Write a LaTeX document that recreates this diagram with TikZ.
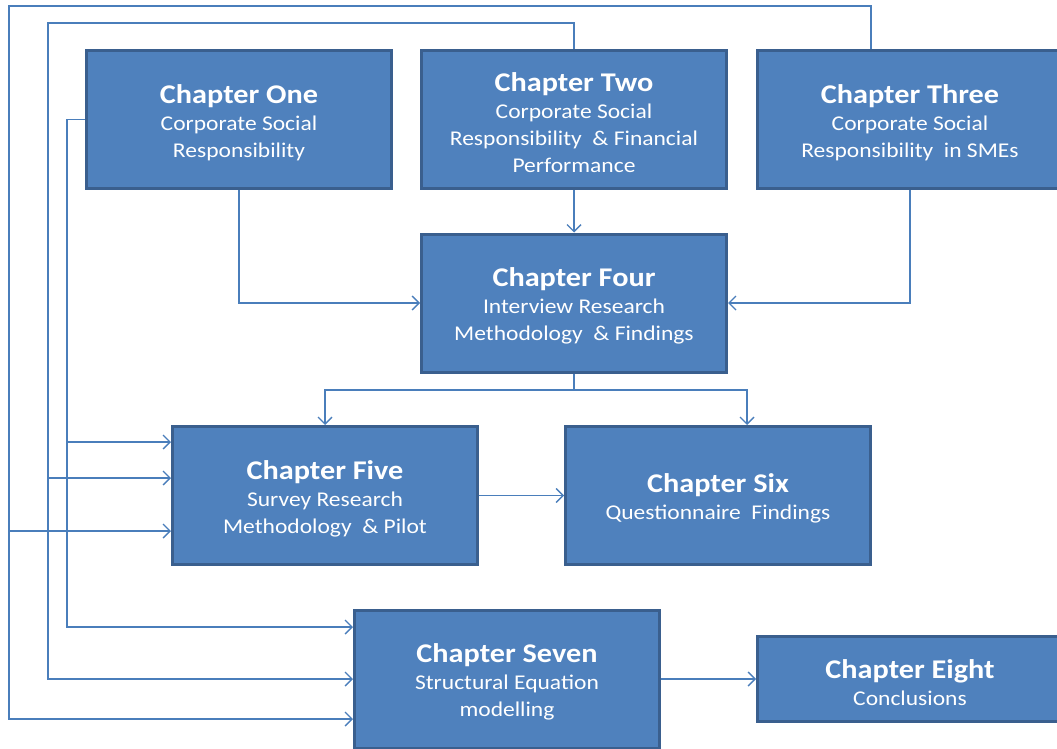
\documentclass[tikz,border=0pt]{standalone}
\usepackage{fontspec}
\setmainfont{Carlito}[FakeStretch=1.12]
\usetikzlibrary{arrows.meta,calc}
\definecolor{boxfill}{HTML}{4F81BD}
\definecolor{boxline}{HTML}{3A5F8E}
\definecolor{conncol}{HTML}{4A7EBB}
\tikzset{
  chap/.style={draw=boxline, line width=3pt, fill=boxfill, text=white,
    minimum width=305pt, minimum height=138pt, align=center, inner sep=0pt,
    font=\fontsize{21}{27}\selectfont},
  conn/.style={draw=conncol, line width=1.4pt},
  arr/.style={conn, -{Straight Barb[length=7pt,width=14pt,line width=1.4pt]}},
}
\newcommand{\ctitle}[1]{{\fontsize{27}{30}\selectfont\bfseries\rule{0pt}{25.5pt}#1}}
\begin{document}
\begin{tikzpicture}[x=1pt,y=-1pt]
\useasboundingbox (0,0) rectangle (1057,749);
\node[chap] (One) at (239,119.5) {\ctitle{Chapter One}\\Corporate Social\\Responsibility};
\node[chap] (Two) at (574,119.5) {\ctitle{Chapter Two}\\Corporate Social\\Responsibility~ \& Financial\\Performance};
\node[chap] (Three) at (910,119.5) {\ctitle{Chapter Three}\\Corporate Social\\Responsibility~ in SMEs};
\node[chap] (Four) at (574,303) {\ctitle{Chapter Four}\\Interview Research\\Methodology~ \& Findings};
\node[chap] (Five) at (325,495.5) {\ctitle{Chapter Five}\\Survey Research\\Methodology~ \& Pilot};
\node[chap] (Six) at (718,495.5) {\ctitle{Chapter Six}\\Questionnaire~ Findings};
\node[chap] (Seven) at (507,679) {\ctitle{Chapter Seven}\\Structural Equation\\modelling};
\node[chap, minimum height=85pt] (Eight) at (910,679) {\ctitle{Chapter Eight}\\Conclusions};

% top three to four
\draw[arr] (One.south) |- (Four.west);
\draw[arr] (Two.south) -- (Four.north);
\draw[arr] (Three.south) |- (Four.east);
% four to five and six
\coordinate (sp) at (574,390);
\draw[conn] (Four.south) -- (sp);
\draw[arr] (sp) -| (Five.north);
\draw[arr] (sp) -| ($(Six.north)+(29,0)$);
% five to six, seven to eight
\draw[arr] (Five.east) -- (Six.west);
\draw[arr] (Seven.east) -- (Eight.west);
% left trunk 1 from chapter one
\coordinate (a1) at (67,119.5);
\coordinate (b1) at (67,442);
\coordinate (e1) at (67,627);
\draw[arr] (One.west) -- (a1) -- (e1) -- (e1 -| Seven.west);
\draw[arr] (b1) -- (b1 -| Five.west);
% left trunk 2 from chapter two
\coordinate (a2) at (48,23);
\coordinate (b2) at (48,478);
\coordinate (e2) at (48,679);
\draw[arr] (Two.north) |- (a2) -- (e2) -- (Seven.west);
\draw[arr] (b2) -- (b2 -| Five.west);
% left trunk 3 from chapter three
\coordinate (s3) at ($(Three.north)+(-39,0)$);
\coordinate (a3) at (9,6);
\coordinate (b3) at (9,531);
\coordinate (e3) at (9,719);
\draw[arr] (s3) |- (a3) -- (e3) -- (e3 -| Seven.west);
\draw[arr] (b3) -- (b3 -| Five.west);
\end{tikzpicture}
\end{document}
